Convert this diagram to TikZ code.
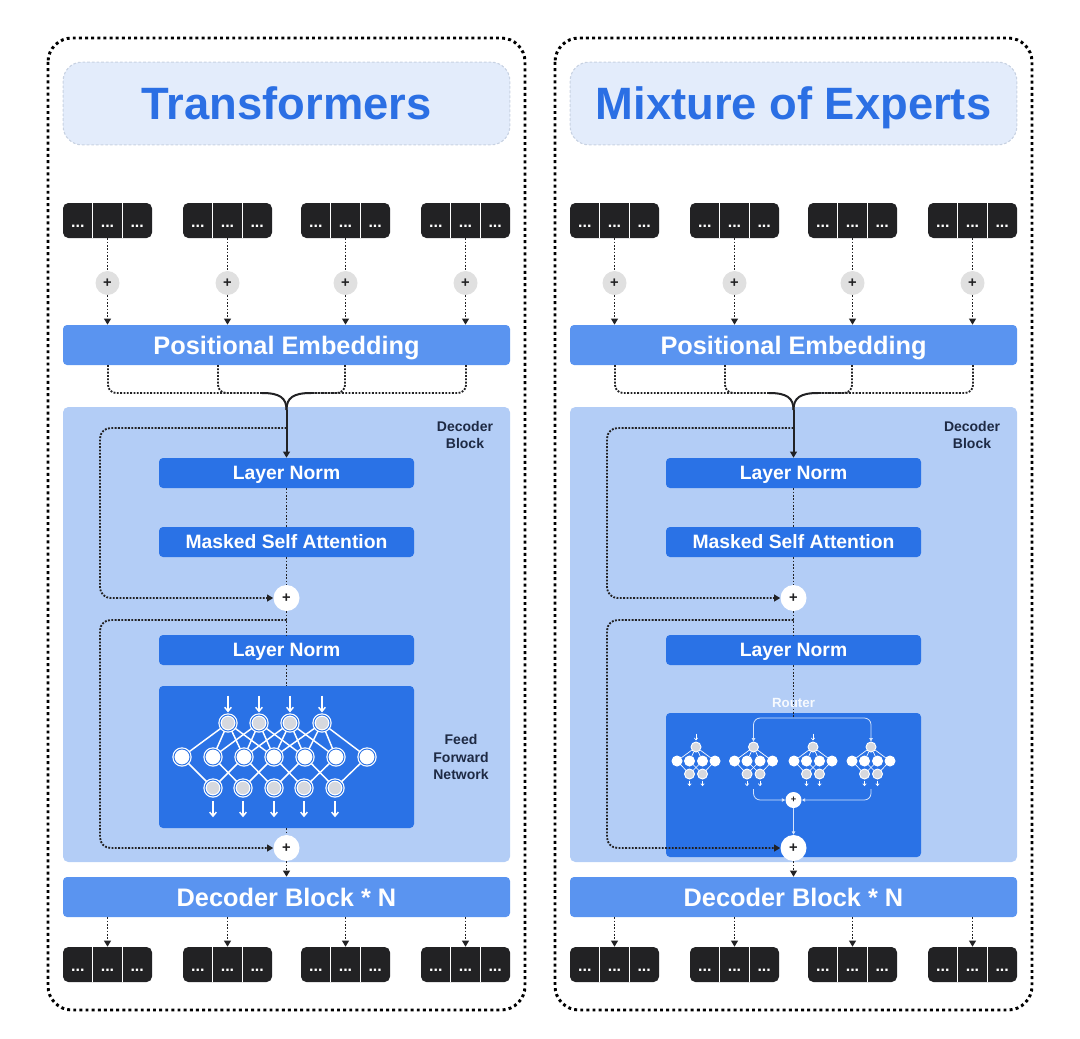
\documentclass[tikz,border=0pt]{standalone}
\usepackage{fontspec}
\setmainfont{Liberation Sans}
\usetikzlibrary{arrows.meta,positioning,calc}
\definecolor{tokDark}{RGB}{34,34,36}
\definecolor{titleFill}{RGB}{227,236,251}
\definecolor{titleLine}{RGB}{200,210,226}
\definecolor{titleBlue}{RGB}{43,111,228}
\definecolor{barBlue}{RGB}{90,148,240}
\definecolor{blockBlue}{RGB}{179,205,246}
\definecolor{layerBlue}{RGB}{42,114,230}
\definecolor{plusGray}{RGB}{224,224,224}
\definecolor{labelNavy}{RGB}{30,42,68}
\definecolor{netGray}{RGB}{214,216,222}
\definecolor{routeLine}{RGB}{214,228,251}

\tikzset{
  frame/.style={draw=black, line width=2.2pt, dash pattern=on 2.2pt off 2.4pt, rounded corners=18pt},
  titlebox/.style={fill=titleFill, draw=titleLine, line width=0.8pt, dash pattern=on 2pt off 1.5pt,
    rounded corners=14pt, minimum width=335pt, minimum height=62pt, text=titleBlue,
    text height=24.3pt, text depth=0pt, font=\fontsize{34}{40}\selectfont\bfseries},
  tokgrp/.style={fill=tokDark, rounded corners=4pt, minimum width=66.75pt, minimum height=26.25pt, inner sep=0pt},
  tokdots/.style={text=white, font=\fontsize{12}{12}\selectfont\bfseries, inner sep=0pt},
  gplus/.style={circle, fill=plusGray, minimum size=18pt, inner sep=0pt, text=tokDark,
    font=\fontsize{11}{11}\selectfont\bfseries},
  wplus/.style={circle, fill=white, minimum size=19.5pt, inner sep=0pt, text=tokDark,
    font=\fontsize{11}{11}\selectfont\bfseries},
  bar/.style={fill=barBlue, rounded corners=3pt, minimum width=335.25pt, minimum height=30pt, text=white,
    text height=13.6pt, text depth=0pt, font=\fontsize{19}{22}\selectfont\bfseries},
  blockarea/.style={fill=blockBlue, rounded corners=4pt, minimum width=335.25pt, minimum height=341.25pt},
  layer/.style={fill=layerBlue, rounded corners=3pt, minimum width=191.25pt, minimum height=22.5pt, text=white,
    text height=10.4pt, text depth=0pt, font=\fontsize{14.5}{16}\selectfont\bfseries},
  lbl/.style={text=labelNavy, align=center, font=\fontsize{10.5}{12.8}\selectfont\bfseries},
  dotline/.style={draw=tokDark, line width=1.4pt, dash pattern=on 1.4pt off 1.1pt},
  dotarrow/.style={dotline, -{Triangle[length=4.5pt,width=5pt]}},
  solidline/.style={draw=tokDark, line width=1.5pt},
  nn/.style={circle, draw=white, double=layerBlue, double distance=0.7pt, line width=0.9pt,
    minimum size=12pt, inner sep=0pt},
  nedge/.style={draw=white, line width=1.1pt},
  warrow/.style={draw=white, line width=1.1pt, -{Straight Barb[length=3pt,width=5pt]}},
  sn/.style={circle, draw=white, line width=0.7pt, minimum size=7.5pt, inner sep=0pt},
  sedge/.style={draw=white, line width=0.5pt},
  sarrow/.style={draw=white, line width=0.5pt, -{Straight Barb[length=1.5pt,width=2.5pt]}},
  rline/.style={draw=routeLine, line width=0.6pt},
  rarrow/.style={rline, -{Triangle[length=2.5pt,width=2.5pt]}},
  rlbl/.style={text=white!90!blockBlue, font=\fontsize{10}{10}\selectfont\bfseries},
  splus/.style={circle, fill=white, minimum size=12pt, inner sep=0pt, text=tokDark,
    font=\fontsize{7}{7}\selectfont\bfseries},
}

\begin{document}
\begin{tikzpicture}[x=0.75pt,y=-0.75pt]
\useasboundingbox (0,0) rectangle (1080,1038);

% two panels, same skeleton
\foreach \p/\ox/\ttl/\by/\bh in {L/0/Transformers/757/106.5, R/507/Mixture of Experts/785/108}{
\begin{scope}[shift={(\ox,0)}]
  \draw[frame] (48,38) rectangle (525,1010);
  \node[titlebox] (title\p) at (286.5,103.5) {\ttl};

  \node[bar] (pe\p) at (286.5,345) {Positional Embedding};
  \node[blockarea] (dec\p) at (286.5,634.5) {};
  \node[lbl] (declbl\p) at (465,435) {Decoder\\Block};
  \node[bar] (dbn\p) at (286.5,897) {Decoder Block * N};

  % tokens in and out
  \foreach \c [count=\i] in {107.5,227.5,345.5,465.5}{
    \node[tokgrp] (in\p\i) at (\c,220.5) {};
    \node[tokgrp] (out\p\i) at (\c,964.5) {};
    \foreach \yy in {220.5,964.5}{
      \draw[white, line width=1.1pt] (\c-14.8,\yy-17.5) -- (\c-14.8,\yy+17.5);
      \draw[white, line width=1.1pt] (\c+14.8,\yy-17.5) -- (\c+14.8,\yy+17.5);
    }
    \node[tokdots] (in\p\i-a) at (\c-29.7,226) {...};
    \node[tokdots] (in\p\i-b) at (\c,226) {...};
    \node[tokdots] (in\p\i-c) at (\c+29.7,226) {...};
    \node[tokdots] (out\p\i-a) at (\c-29.7,970) {...};
    \node[tokdots] (out\p\i-b) at (\c,970) {...};
    \node[tokdots] (out\p\i-c) at (\c+29.7,970) {...};
    \node[gplus] (ps\p\i) at (\c,283) {+};
    \draw[dotline] (in\p\i.south) -- (ps\p\i.north);
    \draw[dotarrow] (ps\p\i.south) -- (ps\p\i.south |- pe\p.north);
    \draw[dotarrow] (out\p\i.north |- dbn\p.south) -- (out\p\i.north);
  }

  % merge into the block
  \coordinate (dA\p) at (108,365);
  \coordinate (dB\p) at (218,365);
  \coordinate (dC\p) at (345,365);
  \coordinate (dD\p) at (466,365);
  \coordinate (yl\p) at (262,393);
  \coordinate (yr\p) at (311,393);
  \coordinate (yc\p) at (286.5,410);
  \draw[dotline, rounded corners=6pt] (dA\p) |- (yl\p);
  \draw[dotline, rounded corners=6pt] (dB\p) |- (yl\p);
  \draw[dotline, rounded corners=6pt] (dD\p) |- (yr\p);
  \draw[dotline, rounded corners=6pt] (dC\p) |- (yr\p);
  \draw[solidline] (yl\p) .. controls (280,393) and (286.5,398) .. (yc\p);
  \draw[solidline] (yr\p) .. controls (293,393) and (286.5,398) .. (yc\p);

  \node[layer] (ln1\p) at (286.5,473) {Layer Norm};
  \node[layer] (msa\p) at (286.5,542) {Masked Self Attention};
  \node[wplus] (pa\p) at (286.5,598) {+};
  \node[layer] (ln2\p) at (286.5,650) {Layer Norm};
  \node[layer, minimum height=\bh pt] (box\p) at (286.5,\by) {};
  \node[wplus] (pb\p) at (286.5,848) {+};

  \draw[solidline, -{Triangle[length=4.5pt,width=5pt]}] (yc\p) -- (ln1\p.north);
  \draw[dotline] (ln1\p.south) -- (msa\p.north);
  \draw[dotline] (msa\p.south) -- (pa\p.north);
  \draw[dotline] (pa\p.south) -- (ln2\p.north);
  \draw[dotarrow] (pb\p.south) -- (dbn\p.north);

  % residuals
  \coordinate (ra\p) at (286.5,428);
  \coordinate (rb\p) at (286.5,620);
  \draw[dotarrow, rounded corners=8pt] (ra\p) -| (100,598) -- (pa\p.west);
  \draw[dotarrow, rounded corners=8pt] (rb\p) -| (100,848) -- (pb\p.west);
\end{scope}
}

% feed forward network (left)
\draw[dotline] (ln2L.south) -- (boxL.north);
\draw[dotline] (boxL.south) -- (pbL.north);
\node[lbl] (ffnlbl) at (461,757) {Feed\\Forward\\Network};
\foreach \x [count=\i] in {228,259,290,322}
  \node[nn, fill=netGray] (ffnT\i) at (\x,723) {};
\foreach \x [count=\i] in {182,213,244,274,305,336,367}
  \node[nn, fill=white] (ffnM\i) at (\x,757) {};
\foreach \x [count=\i] in {213,243,274,304,335}
  \node[nn, fill=netGray] (ffnB\i) at (\x,788) {};
\foreach \i in {1,...,4}{
  \foreach \d in {0,...,3}{
    \pgfmathtruncatemacro{\j}{\i+\d}
    \draw[nedge] (ffnT\i) -- (ffnM\j);
  }
  \draw[warrow] ([yshift=14pt]ffnT\i.north) -- ([yshift=1.5pt]ffnT\i.north);
}
\foreach \k in {1,...,5}{
  \pgfmathtruncatemacro{\j}{\k+2}
  \draw[nedge] (ffnB\k) -- (ffnM\k);
  \draw[nedge] (ffnB\k) -- (ffnM\j);
  \draw[warrow] ([yshift=-3.5pt]ffnB\k.south) -- ([yshift=-15.5pt]ffnB\k.south);
}

% mixture of experts (right)
\coordinate (rsplit) at (793.5,718);
\draw[dotline] (ln2R.south) -- (rsplit);
\node[rlbl] (router) at (793.5,703) {Router};
\foreach \cx/\hasin [count=\e] in {696/1,753.5/0,813/1,871/0}{
  \node[sn, fill=netGray] (e\e-t) at (\cx,747) {};
  \node[sn, fill=white] (e\e-m1) at (\cx-19,761) {};
  \node[sn, fill=white] (e\e-m2) at (\cx-6.5,761) {};
  \node[sn, fill=white] (e\e-m3) at (\cx+6.5,761) {};
  \node[sn, fill=white] (e\e-m4) at (\cx+19,761) {};
  \node[sn, fill=netGray] (e\e-b1) at (\cx-6.5,774) {};
  \node[sn, fill=netGray] (e\e-b2) at (\cx+6.5,774) {};
  \foreach \m in {1,...,4}
    \draw[sedge] (e\e-t) -- (e\e-m\m);
  \draw[sedge] (e\e-m1) -- (e\e-b1);
  \draw[sedge] (e\e-m2) -- (e\e-b2);
  \draw[sedge] (e\e-m3) -- (e\e-b1);
  \draw[sedge] (e\e-m4) -- (e\e-b2);
  \draw[sarrow] ([yshift=-0.8pt]e\e-b1.south) -- ([yshift=-5pt]e\e-b1.south);
  \draw[sarrow] ([yshift=-0.8pt]e\e-b2.south) -- ([yshift=-5pt]e\e-b2.south);
  \ifnum\hasin=1
    \draw[sarrow] ([yshift=6pt]e\e-t.north) -- ([yshift=0.8pt]e\e-t.north);
  \fi
}
\draw[rarrow, rounded corners=5pt] (rsplit) -| (e2-t.north);
\draw[rarrow, rounded corners=5pt] (rsplit) -| (e4-t.north);
\node[splus] (sp) at (793.5,800) {+};
\coordinate (eo2) at (753.5,789);
\coordinate (eo4) at (871,789);
\draw[rarrow, rounded corners=5pt] (eo2) |- (sp.west);
\draw[rarrow, rounded corners=5pt] (eo4) |- (sp.east);
\draw[rarrow] (sp.south) -- (pbR.north);
\end{tikzpicture}
\end{document}
